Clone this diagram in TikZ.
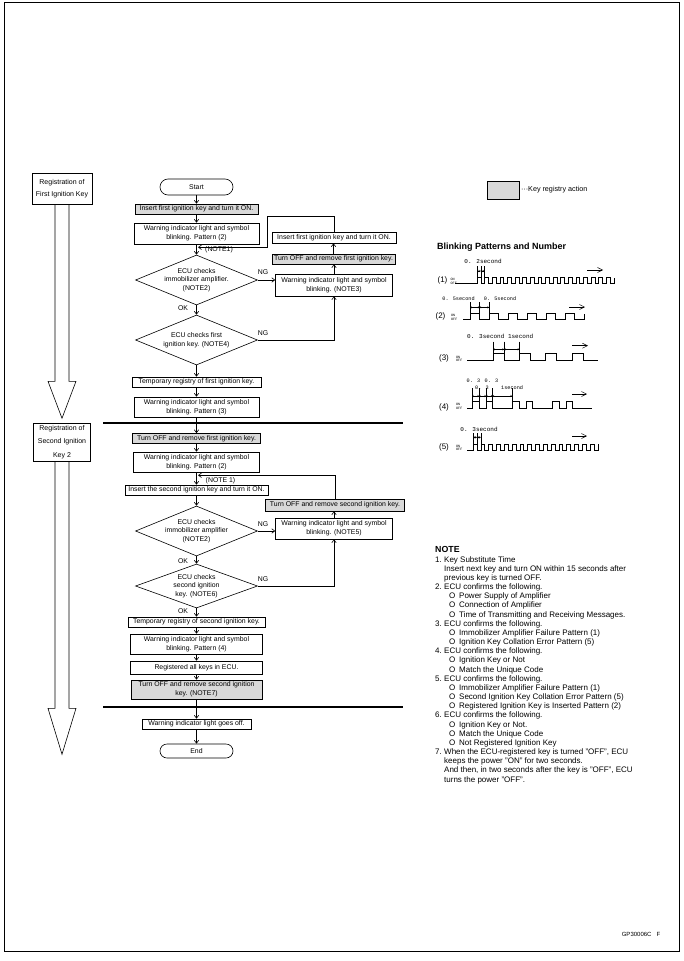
\documentclass[tikz,border=0pt]{standalone}
\usepackage{fontspec}
\setmainfont{Liberation Sans}
\newfontfamily\monof{Liberation Mono}
\usetikzlibrary{arrows.meta,shapes.geometric,calc}
\definecolor{gfill}{gray}{0.85}
\newcommand\ftc{\fontsize{6.9}{9}\selectfont}
\newcommand\nnum[1]{\makebox[9pt][l]{#1}}
\newcommand\nind{\hspace*{9pt}}
\newcommand\nbul{\hspace*{14pt}\makebox[10pt][l]{O}}
\begin{document}
\begin{tikzpicture}[x=1pt,y=-1pt,
  box/.style={draw, line width=0.6pt, inner sep=0pt, align=center, font=\ftc},
  gbox/.style={box, fill=gfill},
  dia/.style={diamond, draw, line width=0.6pt, inner sep=0pt, minimum width=122pt, minimum height=50pt},
  dtext/.style={inner sep=0pt, align=center, font=\fontsize{6.9}{8.6}\selectfont},
  lbl/.style={inner sep=0pt, font=\ftc},
  arr/.style={line width=0.6pt, -{Straight Barb[length=3pt,width=4.5pt]}},
  sig/.style={line width=0.5pt},
  tk/.style={line width=0.35pt},
  dimarr/.style={line width=0.35pt, {Straight Barb[length=1.3pt,width=1.8pt]}-{Straight Barb[length=1.3pt,width=1.8pt]}},
  goarr/.style={line width=0.5pt, -{Straight Barb[length=5pt,width=5pt]}},
  mono/.style={inner sep=0pt, font=\monof\fontsize{6}{6}\selectfont},
  monos/.style={inner sep=0pt, font=\monof\fontsize{5.2}{6}\selectfont},
  onoff/.style={inner sep=0pt, align=left, font=\monof\fontsize{3.4}{3.4}\selectfont},
  plab/.style={inner sep=0pt, font=\fontsize{8}{9}\selectfont}
]
\useasboundingbox (0,0) rectangle (684,961);
\draw[line width=0.8pt] (4,2) rectangle (679,951);

% left registration column
\node[box, minimum width=60pt, minimum height=31pt, font=\fontsize{7}{12}\selectfont] (regA) at (62,188.5) {Registration of\\First Ignition Key};
\node[box, minimum width=57pt, minimum height=38pt, font=\fontsize{7}{13.5}\selectfont] (regB) at (62,442) {Registration of\\Second Ignition\\Key 2};
\draw[line width=0.6pt] ($(regA.south)+(-7,0)$) -- ++(0,177) -- ++(-7,0) -- ++(14,37) -- ++(14,-37) -- ++(-7,0) -- ++(0,-177);
\draw[line width=0.6pt] ($(regB.south)+(-7,0)$) -- ++(0,247) -- ++(-7,0) -- ++(14,46) -- ++(14,-46) -- ++(-7,0) -- ++(0,-247);

% main column
\node[box, rounded corners=8pt, minimum width=73pt, minimum height=16pt] (start) at (196.5,187) {Start};
\node[gbox, minimum width=123pt, minimum height=10pt] (b1) at (196.5,209) {Insert first ignition key and turn it ON.};
\node[box, minimum width=125pt, minimum height=21pt] (b2) at (196.5,233.5) {Warning indicator light and symbol\\blinking. Pattern (2)};
\node[dia] (d1) at (196.5,280) {};
\node[dtext] at (d1) {ECU checks\\immobilizer amplifier.\\(NOTE2)};
\node[dia] (d2) at (196.5,340) {};
\node[dtext] at (d2) {ECU checks first\\ignition key. (NOTE4)};
\node[box, minimum width=129pt, minimum height=10pt] (b3) at (196.5,382) {Temporary registry of first ignition key.};
\node[box, minimum width=125pt, minimum height=20pt] (b4) at (196.5,407) {Warning indicator light and symbol\\blinking. Pattern (3)};
\node[gbox, minimum width=128pt, minimum height=10pt] (b5) at (196.5,438.5) {Turn OFF and remove first ignition key.};
\node[box, minimum width=126pt, minimum height=20pt] (b6) at (196.5,462) {Warning indicator light and symbol\\blinking. Pattern (2)};
\node[box, minimum width=143pt, minimum height=10pt] (b7) at (196.5,490) {Insert the second ignition key and turn it ON.};
\node[dia] (d3) at (196.5,531) {};
\node[dtext] at (d3) {ECU checks\\immobilizer amplifier\\(NOTE2)};
\node[dia, minimum height=44pt] (d4) at (196.5,586) {};
\node[dtext] at (d4) {ECU checks\\second ignition\\key. (NOTE6)};
\node[box, minimum width=137pt, minimum height=10pt] (b8) at (196.5,622) {Temporary registry of second ignition key.};
\node[box, minimum width=132pt, minimum height=20pt] (b9) at (196.5,644) {Warning indicator light and symbol\\blinking. Pattern (4)};
\node[box, minimum width=132pt, minimum height=13pt] (b10) at (196.5,667.5) {Registered all keys in ECU.};
\node[gbox, minimum width=131pt, minimum height=19pt] (b11) at (196.5,689.5) {Turn OFF and remove second ignition\\key. (NOTE7)};
\node[box, minimum width=109pt, minimum height=10pt] (b12) at (196.5,724) {Warning indicator light goes off.};
\node[box, rounded corners=7pt, minimum width=73pt, minimum height=14pt] (end) at (196.5,751) {End};

% right column
\node[box, minimum width=124pt, minimum height=11pt] (r1) at (334,237.5) {Insert first ignition key and turn it ON.};
\node[gbox, minimum width=123pt, minimum height=10pt] (r2) at (333.5,259) {Turn OFF and remove first ignition key.};
\node[box, minimum width=117pt, minimum height=22pt] (r3) at (334,285) {Warning indicator light and symbol\\blinking. (NOTE3)};
\node[gbox, minimum width=139pt, minimum height=12pt] (r4) at (335,505) {Turn OFF and remove second ignition key.};
\node[box, minimum width=117pt, minimum height=21pt] (r5) at (334,528.5) {Warning indicator light and symbol\\blinking. (NOTE5)};

% divider lines
\draw[line width=1.4pt] (103,423) -- (403,423);
\draw[line width=1.4pt] (103,707) -- (403,707);

% main connectors
\draw[arr] (start) -- (b1);
\draw[arr] (b1) -- (b2);
\draw[arr] (b2) -- (d1);
\draw[arr] (d1) -- (d2);
\draw[arr] (d2) -- (b3);
\draw[arr] (b3) -- (b4);
\draw[arr] (b4) -- (b5);
\draw[arr] (b5) -- (b6);
\draw[arr] (b6) -- (b7);
\draw[arr] (b7) -- (d3);
\draw[arr] (d3) -- (d4);
\draw[arr] (d4) -- (b8);
\draw[arr] (b8) -- (b9);
\draw[arr] (b9) -- (b10);
\draw[arr] (b10) -- (b11);
\draw[arr] (b11) -- (b12);
\draw[arr] (b12) -- (end);

% side loops
\draw[arr] (d1.east) -- (d1.east -| r3.west);
\draw[arr] (r3.north) -- (r3.north |- r2.south);
\draw[arr] (r2.north) -- (r2.north |- r1.south);
\draw[arr] (d2.east) -| (r3.south);
\draw[arr] (r1.north) -- ++(0,-15) -- ++(-67,0) |- ($(b2.south)+(1.5,3)$);
\draw[arr] (d3.east) -- (d3.east -| r5.west);
\draw[arr] (d4.east) -| (r5.south);
\draw[arr] (r5.north) -- (r5.north |- r4.south);
\draw[arr] (r4.north) |- ($(b6.south)+(1.5,3)$);

% labels
\node[lbl] at (219,250) {(NOTE1)};
\node[lbl] at (220.5,481) {(NOTE 1)};
\node[lbl] at (263,272) {NG};
\node[lbl] at (263,333) {NG};
\node[lbl] at (263,524) {NG};
\node[lbl] at (263,579) {NG};
\node[lbl] at (183,308) {OK};
\node[lbl] at (183,561) {OK};
\node[lbl] at (183,611) {OK};

% legend
\node[gbox, minimum width=32pt, minimum height=18pt] (leg) at (503,190) {};
\node[lbl, anchor=west, xshift=1.5pt, font=\fontsize{7.2}{9}\selectfont] at (leg.east) {···Key registry action};

% blinking patterns
\node[inner sep=0pt, anchor=base west, font=\bfseries\fontsize{9}{10}\selectfont] at (437,249) {Blinking Patterns and Number};

% (1)
\node[plab] at (442.5,280) {(1)};
\node[onoff, anchor=south west] at (450.5,284.5) {ON\\OFF};
\draw[sig] (455,283.5) -- (477,283.5) \foreach \i in {1,...,18}{ -- ++(0,-6) -- ++(3.8,0) -- ++(0,6) -- ++(3.8,0)} -- ++(0,-6);
\foreach \x in {477,480.8,484.6} \draw[tk] (\x,266) -- (\x,277.5);
\draw[dimarr] (477,271) -- (480.8,271);
\draw[dimarr] (480.8,271) -- (484.6,271);
\node[mono] at (483,261) {0. 2second};
\draw[goarr] (587,270) -- (603,270);

% (2)
\node[plab] at (440.5,316.5) {(2)};
\node[onoff, anchor=south west] at (451,320.5) {ON\\OFF};
\draw[sig] (463,319.5) -- (470,319.5) \foreach \i in {1,...,6}{ -- ++(0,-6) -- ++(9.5,0) -- ++(0,6) -- ++(9.5,0)} -- ++(0,-6);
\foreach \x in {470,479.5,489} \draw[tk] (\x,302) -- (\x,313.5);
\draw[dimarr] (470,307.3) -- (479.5,307.3);
\draw[dimarr] (479.5,307.3) -- (489,307.3);
\node[monos] at (458.5,299) {0. 5second};
\node[monos] at (500,299) {0. 5second};
\draw[goarr] (569,307) -- (585,307);

% (3)
\node[plab] at (444,358.3) {(3)};
\node[onoff, anchor=south west] at (456,361.7) {ON\\OFF};
\draw[sig] (467,360.7) -- (493,360.7) \foreach \i in {1,...,4}{ -- ++(0,-7.4) -- ++(11,0) -- ++(0,7.4) -- ++(15.3,0)};
\foreach \x in {493,504,519.3} \draw[tk] (\x,341.7) -- (\x,353.3);
\draw[dimarr] (493,349.3) -- (504,349.3);
\draw[dimarr] (504,349.3) -- (519.3,349.3);
\node[mono, anchor=west] at (467,336) {0. 3second 1second};
\draw[goarr] (572,345.7) -- (588,345.7);

% (4)
\node[plab] at (444,407.3) {(4)};
\node[onoff, anchor=south west] at (456,409.3) {ON\\OFF};
\draw[sig] (467,408.3) -- (472,408.3) \foreach \i in {1,...,3}{ -- ++(0,-7.3) -- ++(7,0) -- ++(0,7.3) -- ++(7,0) -- ++(0,-7.3) -- ++(6.5,0) -- ++(0,7.3) -- ++(19.5,0)};
\foreach \x in {472,479,486,492.5,512} \draw[tk] (\x,388) -- (\x,401);
\draw[dimarr] (472,396) -- (479,396);
\draw[dimarr] (479,396) -- (486,396);
\draw[dimarr] (486,396) -- (492.5,396);
\draw[dimarr] (492.5,396) -- (512,396);
\node[monos] at (473.5,381) {0. 3};
\node[monos] at (491.5,381) {0. 3};
\node[monos] at (482,387.7) {0. 3};
\node[monos, anchor=west] at (501,387.7) {1second};
\draw[goarr] (572,394) -- (587,394);

% (5)
\node[plab] at (444,447.7) {(5)};
\node[onoff, anchor=south west] at (456,451) {ON\\OFF};
\draw[sig] (467,450) -- (473,450) \foreach \i in {1,...,16}{ -- ++(0,-6) -- ++(3.9,0) -- ++(0,6) -- ++(3.9,0)} -- ++(0,-6);
\foreach \x in {473,476.9,480.8} \draw[tk] (\x,433) -- (\x,444);
\draw[dimarr] (473,437.3) -- (476.9,437.3);
\draw[dimarr] (476.9,437.3) -- (480.8,437.3);
\node[mono] at (479,429) {0. 3second};
\draw[goarr] (572,436) -- (587,436);

% NOTE
\node[inner sep=0pt, anchor=base west, font=\bfseries\fontsize{8.8}{10}\selectfont] at (435,552.5) {NOTE};
\node[anchor=north west, inner sep=0pt, align=left, font=\fontsize{8}{9.17}\selectfont] (notes) at (435,556) {%
\nnum{1.}Key Substitute Time\\
\nind Insert next key and turn ON within 15 seconds after\\
\nind previous key is turned OFF.\\
\nnum{2.}ECU confirms the following.\\
\nbul Power Supply of Amplifier\\
\nbul Connection of Amplifier\\
\nbul Time of Transmitting and Receiving Messages.\\
\nnum{3.}ECU confirms the following.\\
\nbul Immobilizer Amplifier Failure Pattern (1)\\
\nbul Ignition Key Collation Error Pattern (5)\\
\nnum{4.}ECU confirms the following.\\
\nbul Ignition Key or Not\\
\nbul Match the Unique Code\\
\nnum{5.}ECU confirms the following.\\
\nbul Immobilizer Amplifier Failure Pattern (1)\\
\nbul Second Ignition Key Collation Error Pattern (5)\\
\nbul Registered Ignition Key is Inserted Pattern (2)\\
\nnum{6.}ECU confirms the following.\\
\nbul Ignition Key or Not.\\
\nbul Match the Unique Code\\
\nbul Not Registered Ignition Key\\
\nnum{7.}When the ECU-registered key is turned "OFF", ECU\\
\nind keeps the power "ON" for two seconds.\\
\nind And then, in two seconds after the key is "OFF", ECU\\
\nind turns the power "OFF".};

\node[inner sep=0pt, font=\fontsize{6}{7}\selectfont] at (641,934) {GP30006C\hspace{5pt}F};
\end{tikzpicture}
\end{document}
